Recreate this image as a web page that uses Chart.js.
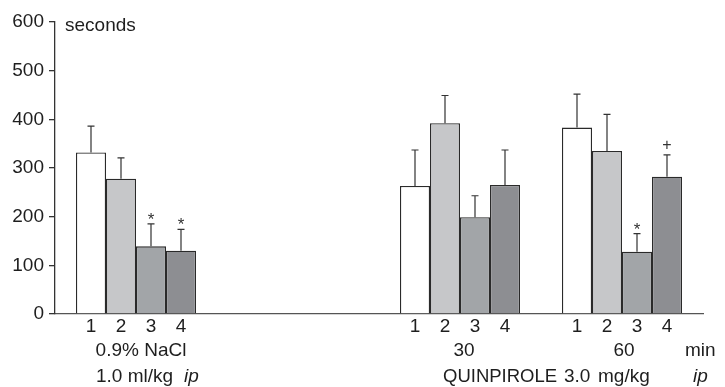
<!DOCTYPE html>
<html>
<head>
<meta charset="utf-8">
<script src="https://cdn.jsdelivr.net/npm/chart.js@4/dist/chart.umd.min.js"></script>
<style>
  html, body { margin: 0; padding: 0; background: #fff; }
  #wrap { width: 725px; height: 387px; }
</style>
</head>
<body>
<div id="wrap"><canvas id="c" width="725" height="387"></canvas></div>
<script>
// ---- data ----
const groups = ["0.9% NaCl", "", "30", "60"];
const barLabels = ["1", "2", "3", "4"];
const series1 = [332, null, 263, 383];
const series2 = [278, null, 392, 335];
const series3 = [139, null, 199, 128];
const series4 = [130, null, 265, 282];
const sem1 = [54, null, 74, 69];
const sem2 = [43, null, 57, 75];
const sem3 = [46, null, 44, 37];
const sem4 = [44, null, 72, 45];
const marks3 = ["*", null, null, "*"];
const marks4 = ["*", null, null, "+"];
const yTicks = [0, 100, 200, 300, 400, 500, 600];

const FONT = '"Liberation Sans", Arial, sans-serif';
const colors = ['#ffffff', '#c6c7c9', '#a2a5a8', '#8d8e92'];
const sems = [sem1, sem2, sem3, sem4];
const marks = [null, null, marks3, marks4];

const errorPlugin = {
  id: 'errs',
  afterDatasetsDraw(chart) {
    const ctx = chart.ctx;
    const y = chart.scales.y;
    chart.data.datasets.forEach((ds, di) => {
      const meta = chart.getDatasetMeta(di);
      meta.data.forEach((bar, i) => {
        const v = ds.data[i];
        if (v == null) return;
        const top = y.getPixelForValue(v + sems[di][i]);
        const base = y.getPixelForValue(v);
        ctx.save();
        ctx.strokeStyle = '#333';
        ctx.lineWidth = 1.2;
        ctx.beginPath();
        ctx.moveTo(bar.x, base);
        ctx.lineTo(bar.x, top);
        ctx.moveTo(bar.x - 3.5, top);
        ctx.lineTo(bar.x + 3.5, top);
        ctx.stroke();
        const m = marks[di] && marks[di][i];
        if (m) {
          ctx.fillStyle = '#333';
          ctx.textAlign = 'center';
          ctx.textBaseline = 'alphabetic';
          if (m === '*') {
            ctx.font = '17px ' + FONT;
            ctx.fillText(m, bar.x, top + 1);
          } else {
            ctx.font = '16px ' + FONT;
            ctx.fillText(m, bar.x, top - 5);
          }
        }
        ctx.restore();
      });
    });
  }
};

const textPlugin = {
  id: 'texts',
  afterDraw(chart) {
    const ctx = chart.ctx;
    const xs = chart.scales.x;
    const bottom = chart.chartArea.bottom;
    ctx.save();
    ctx.fillStyle = '#1e1e1e';
    ctx.font = '19px ' + FONT;
    ctx.textBaseline = 'middle';
    ctx.textAlign = 'center';
    // digits under bars
    chart.data.datasets.forEach((ds, di) => {
      const meta = chart.getDatasetMeta(di);
      meta.data.forEach((bar, i) => {
        if (ds.data[i] == null) return;
        ctx.fillText(barLabels[di], bar.x, bottom + 13);
      });
    });
    // group labels
    const g0 = xs.getPixelForValue(0);
    const g2 = xs.getPixelForValue(2);
    const g3 = xs.getPixelForValue(3);
    ctx.fillText(groups[0], g0 + 5, bottom + 37);
    ctx.fillText(groups[2], g2 + 4, bottom + 37);
    ctx.fillText(groups[3], g3 + 2, bottom + 37);
    ctx.textAlign = 'left';
    ctx.fillText('min', 685, bottom + 37);
    // line 3
    const l3 = bottom + 63;
    ctx.fillText('1.0 ml/kg', g0 - 40, l3);
    ctx.fillText('3.0', g2 + 104, l3);
    ctx.fillText('mg/kg', g2 + 138, l3);
    ctx.font = '18.5px ' + FONT;
    ctx.fillText('QUINPIROLE', g2 - 17, l3);
    ctx.font = 'italic 19px ' + FONT;
    ctx.fillText('ip', g0 + 48, l3);
    ctx.fillText('ip', 693, l3);
    // units
    ctx.font = '19px ' + FONT;
    ctx.fillText('seconds', 65, chart.chartArea.top + 4);
    ctx.restore();
  }
};

new Chart(document.getElementById('c'), {
  type: 'bar',
  data: {
    labels: groups,
    datasets: [series1, series2, series3, series4].map((d, i) => ({
      label: barLabels[i],
      data: d,
      backgroundColor: colors[i],
      borderColor: '#2a2a2a',
      borderWidth: 1.3,
      borderSkipped: 'bottom',
      categoryPercentage: 120 / 162,
      barPercentage: 1.0
    }))
  },
  options: {
    responsive: false,
    animation: false,
    devicePixelRatio: 1,
    layout: { padding: { top: 22, right: 22, left: 0, bottom: 0 } },
    plugins: { legend: { display: false }, tooltip: { enabled: false } },
    scales: {
      x: {
        type: 'category',
        offset: true,
        grid: { display: false, drawTicks: false },
        border: { display: true, color: '#555', width: 1.3 },
        ticks: { display: false },
        afterFit(s) { s.height = 73; s.paddingLeft = 0; s.paddingRight = 0; }
      },
      y: {
        min: 0, max: 600,
        afterBuildTicks(s) { s.ticks = yTicks.map(v => ({ value: v })); },
        grid: { drawOnChartArea: false, drawTicks: true, tickLength: 6, color: '#333', lineWidth: 1.3 },
        border: { display: true, color: '#333', width: 1.3 },
        ticks: { padding: 5, color: '#1e1e1e', font: { family: FONT, size: 19 } },
        afterFit(s) { s.width = 55; s.paddingTop = 0; s.paddingBottom = 0; }
      }
    }
  },
  plugins: [errorPlugin, textPlugin]
});
</script>
</body>
</html>
